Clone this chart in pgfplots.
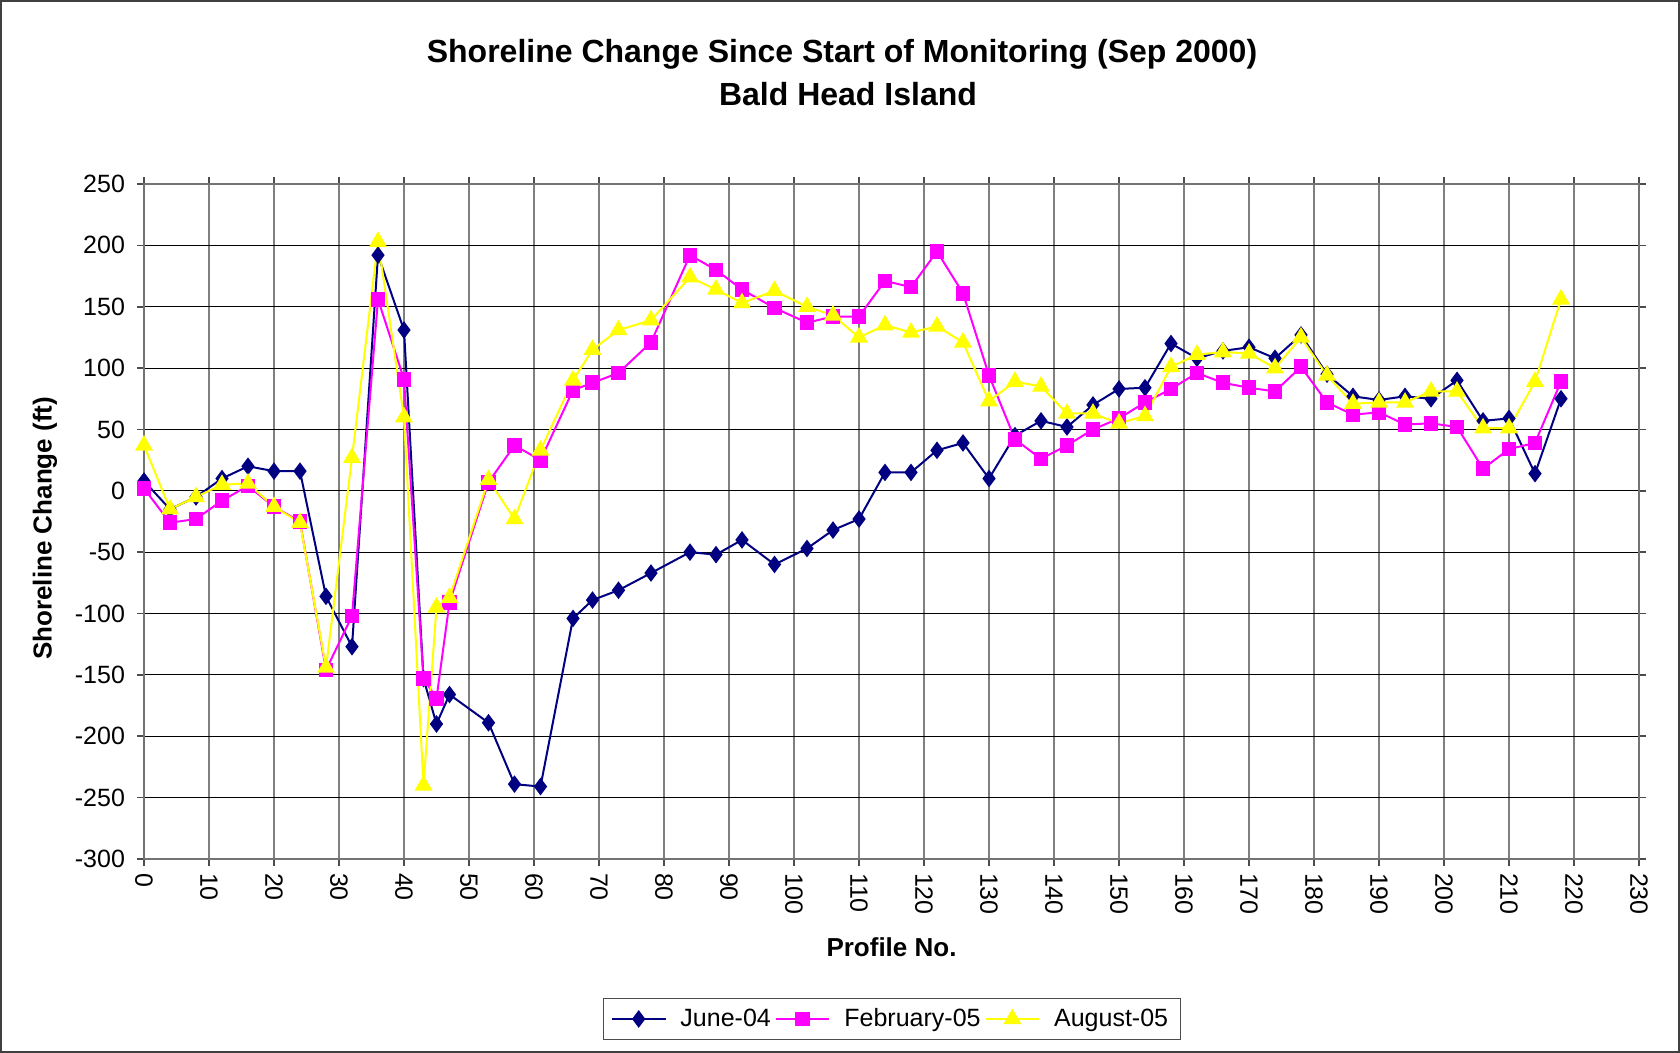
\documentclass[border=0pt]{standalone}
\usepackage{pgfplots}
\pgfplotsset{compat=1.18}
\usepackage{pgfplotstable}
\usepackage{fontspec}
\setmainfont{Liberation Sans}
\definecolor{navyc}{RGB}{0,0,128}
\definecolor{magc}{RGB}{255,0,255}
\definecolor{yelc}{RGB}{255,255,0}
\pgfplotstableread{
x june feb aug
0 8 2 37
4 -15 -26 -15
8 -5 -23 -5
12 10 -8 5
16 20 4 6
20 16 -13 -13
24 16 -25 -26
28 -86 -146 -144
32 -127 -102 27
36 192 156 203
40 131 91 60
43 -153 -153 -240
45 -190 -169 -95
47 -166 -91 -87
53 -189 7 9
57 -239 37 -23
61 -241 25 33
66 -104 82 90
69 -89 88 115
73 -81 96 131
78 -67 121 139
84 -50 192 174
88 -52 180 164
92 -40 164 153
97 -60 149 163
102 -47 137 150
106 -32 142 143
110 -23 142 125
114 15 171 135
118 15 166 129
122 33 195 134
126 39 161 121
130 10 94 73
134 45 42 89
138 57 26 85
142 52 37 63
146 70 50 63
150 83 59 55
154 84 72 61
158 120 83 101
162 108 96 111
166 114 88 113
170 117 84 112
174 108 81 100
178 127 101 125
182 95 72 94
186 77 62 71
190 74 64 72
194 77 54 72
198 75 55 81
202 90 52 81
206 57 18 51
210 59 34 51
214 14 39 89
218 75 89 156
}\shoredata
\begin{document}
\begin{tikzpicture}
\path[use as bounding box] (0,0) rectangle (840bp,526.5bp);
\draw[black!75, line width=1.2bp] (0.6bp,0.6bp) rectangle (839.4bp,525.9bp);
\begin{axis}[
  at={(72bp,97bp)}, anchor=south west, scale only axis,
  width=747.5bp, height=337.5bp,
  xmin=0, xmax=230, ymin=-300, ymax=250,
  xtick={0,10,...,230}, ytick={-300,-250,...,250},
  /pgf/number format/assume math mode=true,
  /pgf/number format/1000 sep={},
  tick label style={font=\fontsize{12.5bp}{14bp}\selectfont},
  xticklabel style={rotate=-90, anchor=west},
  yticklabel style={xshift=-2.5bp},
  tick align=outside, major tick length=3.5bp,
  tick style={black!70, line width=0.8bp},
  axis line style={black!55, line width=1bp},
  xmajorgrids, ymajorgrids,
  x grid style={black!50, line width=0.8bp},
  y grid style={black, line width=0.5bp},
  xlabel={Profile No.},
  ylabel={Shoreline Change (ft)},
  label style={font=\fontsize{13bp}{15bp}\selectfont\bfseries},
  xlabel style={at={(axis description cs:0.5,-0.1304)}, anchor=center},
  ylabel style={at={(axis description cs:-0.0662,0.49)}, anchor=center},
  legend style={at={(axis description cs:0.5,-0.237)}, anchor=center,
    legend columns=3, draw=black!70, font=\fontsize{12.5bp}{15bp}\selectfont,
    inner xsep=4bp, inner ysep=3bp,
    /tikz/every odd column/.append style={column sep=5bp}},
  legend image code/.code={\draw[mark repeat=2,mark phase=2] plot coordinates {(0bp,0bp) (13.4bp,0bp) (26.8bp,0bp)};},
]
\addplot[navyc, line width=1bp, mark=diamond*, mark size=3.6bp, mark options={fill=navyc, draw=navyc}] table[x=x, y=june] {\shoredata};
\addlegendentry{June-04}
\addplot[magc, line width=1bp, mark=square*, mark size=3.2bp, mark options={fill=magc, draw=magc}] table[x=x, y=feb] {\shoredata};
\addlegendentry{February-05}
\addplot[yelc, line width=1bp, mark=triangle*, mark size=4.2bp, mark options={fill=yelc, draw=yelc}] table[x=x, y=aug] {\shoredata};
\addlegendentry{August-05}
\end{axis}
\node[font=\fontsize{16bp}{19bp}\selectfont\bfseries] at (421bp,499.3bp) {Shoreline Change Since Start of Monitoring (Sep 2000)};
\node[font=\fontsize{16bp}{19bp}\selectfont\bfseries] at (424bp,479.4bp) {Bald Head Island};
\end{tikzpicture}
\end{document}
